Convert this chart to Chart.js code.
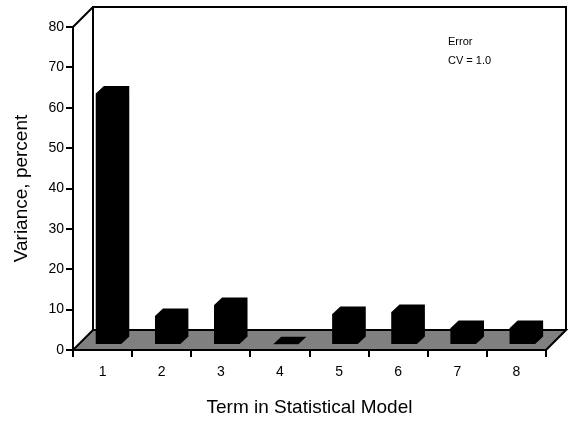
<!DOCTYPE html>
<html>
<head>
<meta charset="utf-8">
<script src="https://cdn.jsdelivr.net/npm/chart.js@4"></script>
<style>
body{margin:0;background:#fff;}
</style>
</head>
<body>
<canvas id="varChart" width="568" height="421"></canvas>
<script>
let terms=["1","2","3","4","5","6","7","8"];
let variance=[62.3,7.2,9.9,0.2,7.7,8.2,4.2,4.2];
let yTicks=[0,10,20,30,40,50,60,70,80];
let noteLines=["Error","CV = 1.0"];

let fontName="'Liberation Sans', Arial, sans-serif";
let depth=20;          // depth of the floor and back wall
let shiftX=6,shiftY=5; // bars stand a little behind the front edge
let barDX=8,barDY=7.5; // thickness of each bar

// floor, back wall and the note in the corner
let boxPlugin={
    id:"box3d",
    beforeDatasetsDraw(chart){
        let ctx=chart.ctx;
        let y=chart.scales.y;
        let left=chart.chartArea.left;
        let right=chart.chartArea.right;
        let y0=y.getPixelForValue(yTicks[0]);
        let yTop=y.getPixelForValue(yTicks[yTicks.length-1]);
        ctx.save();
        ctx.lineWidth=2;
        ctx.strokeStyle="#000";
        ctx.lineJoin="miter";

        ctx.beginPath();
        ctx.moveTo(left,y0);
        ctx.lineTo(right,y0);
        ctx.lineTo(right+depth,y0-depth);
        ctx.lineTo(left+depth,y0-depth);
        ctx.closePath();
        ctx.fillStyle="#808080";
        ctx.fill();
        ctx.stroke();

        ctx.beginPath();
        ctx.moveTo(left+depth,y0-depth);
        ctx.lineTo(left+depth,yTop-depth);
        ctx.lineTo(right+depth,yTop-depth);
        ctx.lineTo(right+depth,y0-depth);
        ctx.moveTo(left,yTop);
        ctx.lineTo(left+depth,yTop-depth);
        ctx.stroke();

        ctx.fillStyle="#000";
        ctx.font="11px "+fontName;
        ctx.textAlign="left";
        ctx.textBaseline="alphabetic";
        for(let i=0;i<noteLines.length;i++){
            ctx.fillText(noteLines[i],right-98,yTop+18+i*19);
        }
        ctx.restore();
    },
    beforeDatasetDraw(chart){
        chart.ctx.save();
        chart.ctx.translate(shiftX,-shiftY);
    },
    afterDatasetDraw(chart,args){
        let ctx=chart.ctx;
        ctx.restore();
        // whole block of every bar: front, top and right side
        ctx.save();
        ctx.fillStyle="#000";
        args.meta.data.forEach(bar=>{
            let p=bar.getProps(["x","y","base","width"],true);
            let l=p.x-p.width/2+shiftX;
            let r=p.x+p.width/2+shiftX;
            let t=p.y-shiftY;
            let b=p.base-shiftY;
            ctx.beginPath();
            ctx.moveTo(l,b);
            ctx.lineTo(l,t);
            ctx.lineTo(l+barDX,t-barDY);
            ctx.lineTo(r+barDX,t-barDY);
            ctx.lineTo(r+barDX,b-barDY);
            ctx.lineTo(r,b);
            ctx.closePath();
            ctx.fill();
        });
        ctx.restore();
    }
};

let ctx=document.getElementById("varChart").getContext("2d");
let varChart=new Chart(ctx,{
    type:"bar",
    data:{
        labels:terms,
        datasets:[{
            data:variance,
            backgroundColor:"#000",
            borderWidth:0,
            categoryPercentage:1,
            barPercentage:0.43
        }]
    },
    options:{
        responsive:false,
        animation:false,
        layout:{padding:{left:0,right:22,top:27,bottom:0}},
        plugins:{legend:{display:false},tooltip:{enabled:false}},
        scales:{
            x:{
                grid:{offset:true,drawOnChartArea:false,drawTicks:true,tickLength:7,color:"#000",lineWidth:2},
                border:{display:true,color:"#000",width:2},
                ticks:{color:"#000",font:{family:fontName,size:14},padding:7},
                title:{display:true,text:"Term in Statistical Model",color:"#000",
                    font:{family:fontName,size:19},padding:{top:0,bottom:2}},
                afterFit(scale){scale.height=71;}
            },
            y:{
                min:yTicks[0],
                max:yTicks[yTicks.length-1],
                afterBuildTicks(scale){scale.ticks=yTicks.map(v=>({value:v}));},
                grid:{drawOnChartArea:false,drawTicks:true,tickLength:7,color:"#000",lineWidth:2},
                border:{display:true,color:"#000",width:2},
                ticks:{color:"#000",font:{family:fontName,size:14},padding:2},
                title:{display:true,text:"Variance, percent",color:"#000",
                    font:{family:fontName,size:19},padding:{top:10,bottom:0}},
                afterFit(scale){scale.width=73;}
            }
        }
    },
    plugins:[boxPlugin]
});
</script>
</body>
</html>
